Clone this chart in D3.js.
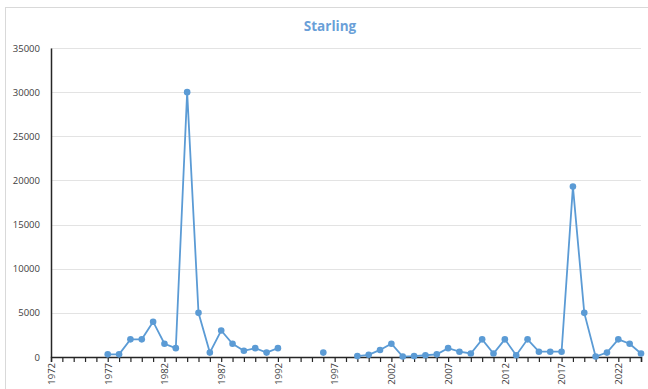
<!DOCTYPE html>
<html><head><meta charset="utf-8">
<script src="https://cdn.jsdelivr.net/npm/d3@7"></script>
<style>body{margin:0;background:#fff;}svg{display:block;}</style>
</head><body><svg id="c" width="648" height="389"></svg>
<script>
const title = "Starling";
const years = d3.range(1972, 2025);
const values = [null,null,null,null,null,300,300,2000,2000,4000,1500,1000,30000,5000,500,3000,1500,700,1000,500,1000,
  null,null,null,500,null,null,100,250,800,1500,50,100,200,300,1000,600,400,2000,400,2000,200,2000,600,600,600,19300,5000,50,500,2000,1500,400];
const yTicks = [0,5000,10000,15000,20000,25000,30000,35000];
const xLabelYears = [1972,1977,1982,1987,1992,1997,2002,2007,2012,2017,2022];

const svg = d3.select("#c");
const m = {l:51, r:641, t:48, b:357};
const blue = "#5b9bd5";

svg.append("rect").attr("x",5.5).attr("y",7.5).attr("width",660).attr("height",400)
  .attr("fill","#fff").attr("stroke","#d9d9d9");

const x = d3.scaleLinear().domain([1972, 2024]).range([m.l, m.r]);
const y = d3.scaleLinear().domain([0, 35000]).range([m.b, m.t]);

svg.append("text").attr("x",330).attr("y",31).attr("text-anchor","middle")
  .attr("font-family","Open Sans, sans-serif").attr("font-weight","bold").attr("font-size",13.5)
  .attr("fill","#6a9fd8").text(title);

// gridlines
svg.append("g").selectAll("line").data(yTicks.filter(d=>d>0)).join("line")
  .attr("x1",m.l).attr("x2",m.r).attr("y1",d=>Math.round(y(d))+0.5).attr("y2",d=>Math.round(y(d))+0.5)
  .attr("stroke","#e3e3e3").attr("stroke-width",1);

// y axis
const ya = svg.append("g").attr("transform",`translate(${m.l},0)`)
  .call(d3.axisLeft(y).tickValues(yTicks).tickSize(0).tickPadding(11).tickFormat(d3.format("d")));
ya.select(".domain").attr("stroke","#262626").attr("stroke-width",1.5);
ya.selectAll("text").attr("font-family","Open Sans, sans-serif").attr("font-size",9.5).attr("fill","#404040");

// x axis
const xa = svg.append("g").attr("transform",`translate(0,${m.b})`)
  .call(d3.axisBottom(x).tickValues(years).tickSize(5).tickFormat(d=> xLabelYears.includes(d)? String(d):""));
xa.select(".domain").attr("stroke","#262626").attr("stroke-width",1.5);
xa.selectAll(".tick line").attr("stroke","#262626").attr("stroke-width",1.2);
xa.selectAll("text").attr("font-family","Open Sans, sans-serif").attr("font-size",9.5).attr("fill","#404040")
  .attr("transform","rotate(-90)").attr("text-anchor","end").attr("x",-6).attr("y",0).attr("dy","0.35em");

const data = years.map((yr,i)=>({yr, v: values[i]}));
const line = d3.line().defined(d=>d.v!==null).x(d=>x(d.yr)).y(d=>y(d.v));
svg.append("path").datum(data).attr("d",line).attr("fill","none").attr("stroke",blue).attr("stroke-width",1.8);
svg.append("g").selectAll("circle").data(data.filter(d=>d.v!==null)).join("circle")
  .attr("cx",d=>x(d.yr)).attr("cy",d=>y(d.v)).attr("r",3.3).attr("fill",blue);
</script></body></html>
